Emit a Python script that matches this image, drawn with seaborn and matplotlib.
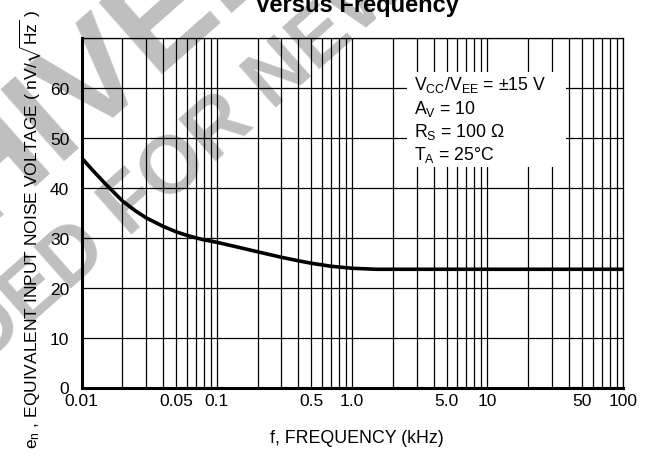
import matplotlib
matplotlib.use("Agg")
import matplotlib.pyplot as plt
from matplotlib import font_manager
from matplotlib.ticker import FixedLocator, FixedFormatter, LogLocator, NullFormatter
from matplotlib.patches import Rectangle
import seaborn as sns
import pandas as pd

# Equivalent input noise voltage vs frequency
freq_khz = [0.01, 0.012, 0.015, 0.02, 0.025, 0.03, 0.04, 0.05, 0.06, 0.07,
            0.08, 0.1, 0.15, 0.2, 0.3, 0.4, 0.5, 0.7, 1.0, 1.5, 2.0, 5.0,
            10, 20, 50, 100]
noise_nv = [46.0, 43.6, 40.8, 37.4, 35.4, 34.0, 32.3, 31.2, 30.5, 30.0,
            29.6, 29.1, 28.0, 27.2, 26.1, 25.4, 24.9, 24.3, 23.9, 23.7, 23.7, 23.7,
            23.7, 23.7, 23.7, 23.7]

x_ticks = [0.01, 0.05, 0.1, 0.5, 1.0, 5.0, 10, 50, 100]
x_tick_labels = ["0.01", "0.05", "0.1", "0.5", "1.0", "5.0", "10", "50", "100"]
y_ticks = [0, 10, 20, 30, 40, 50, 60]
y_tick_labels = ["0", "10", "20", "30", "40", "50", "60"]

conditions = [
    r"V$_\mathrm{CC}$/V$_\mathrm{EE}$ = $\pm$15 V",
    r"A$_\mathrm{V}$ = 10",
    r"R$_\mathrm{S}$ = 100 $\Omega$",
    r"T$_\mathrm{A}$ = 25$\degree$C",
]

sns.set_theme(style="white")

# prefer a narrow Helvetica-like face when one is available
installed = {f.name for f in font_manager.fontManager.ttflist}
if "Liberation Sans Narrow" in installed:
    body, k = "Liberation Sans Narrow", 1.0
else:
    body, k = "Liberation Sans", 0.86

plt.rcParams["font.family"] = [body, "DejaVu Sans"]
plt.rcParams["mathtext.fontset"] = "custom"
plt.rcParams["mathtext.rm"] = body
plt.rcParams["mathtext.it"] = body + ":italic"
plt.rcParams["mathtext.bf"] = body + ":bold"
plt.rcParams["mathtext.fallback"] = "stixsans"

fig = plt.figure(figsize=(6.52, 4.60), dpi=100)
fig.patch.set_facecolor("white")
ax = fig.add_axes([81.7 / 652, 1 - 388.5 / 460, 541 / 652, 349.2 / 460])
ax.patch.set_alpha(0)

# watermark behind the chart
wm = dict(color="#bfbfbf", fontweight="bold", family=["Liberation Sans", "DejaVu Sans"],
          rotation=41.5, rotation_mode="anchor", va="baseline", zorder=-5)
fig.text(128 / 652, 1 - 238 / 460, "FOR NEW DESIGN", fontsize=58, ha="left", **wm)
fig.text(111 / 652, 1 - 253 / 460, "NOT RECOMMENDED", fontsize=58, ha="right", **wm)
fig.text(28 / 652, 1 - 190 / 460, "ARCHIVED", fontsize=100, ha="center", **wm)

df = pd.DataFrame({"f": freq_khz, "en": noise_nv})
sns.lineplot(data=df, x="f", y="en", ax=ax, color="black", lw=2.6,
             solid_joinstyle="round", zorder=4)

ax.set_xscale("log")
ax.set_xlim(0.01, 100)
ax.set_ylim(0, 70)

ax.xaxis.set_major_locator(FixedLocator(x_ticks))
ax.xaxis.set_major_formatter(FixedFormatter(x_tick_labels))
ax.xaxis.set_minor_locator(LogLocator(base=10, subs=range(1, 10), numticks=50))
ax.xaxis.set_minor_formatter(NullFormatter())
ax.yaxis.set_major_locator(FixedLocator(y_ticks + [70]))
ax.yaxis.set_major_formatter(FixedFormatter(y_tick_labels + [""]))

ax.grid(True, which="both", axis="x", color="black", lw=0.9)
ax.grid(True, which="major", axis="y", color="black", lw=0.9)
ax.tick_params(axis="both", which="both", length=0, labelsize=14.5 * k, colors="black")
ax.tick_params(axis="x", pad=4)
ax.tick_params(axis="y", pad=9)

for side in ["top", "right"]:
    ax.spines[side].set_visible(True)
    ax.spines[side].set_color("black")
    ax.spines[side].set_linewidth(0.9)
for side in ["left", "bottom"]:
    ax.spines[side].set_color("black")
    ax.spines[side].set_linewidth(2.2)

ax.set_xlabel("")
ax.set_ylabel("")

# conditions box
ax.add_patch(Rectangle((0.601, 0.631), 0.294, 0.272, transform=ax.transAxes,
                       facecolor="white", edgecolor="none", zorder=3))
for ypos, line in zip([0.855, 0.787, 0.720, 0.653], conditions):
    ax.text(0.614, ypos, line, transform=ax.transAxes, fontsize=14.8 * k,
            ha="left", va="baseline", color="black", zorder=5)

fig.text(357 / 652, 1 - 439 / 460, "f, FREQUENCY (kHz)", fontsize=14.9 * k,
         ha="center", va="center", color="black")
fig.text(37 / 652, 1 - 229 / 460,
         r"e$_\mathrm{n}$ , EQUIVALENT INPUT NOISE VOLTAGE ( nV/$\sqrt{\mathrm{Hz}}$ )",
         fontsize=14.5 * k, rotation=90, rotation_mode="anchor",
         ha="center", va="baseline", color="black")
fig.text(357 / 652, 1 - 12 / 460, "Versus Frequency", fontsize=17, fontweight="bold",
         family=["Liberation Sans", "DejaVu Sans"], ha="center", va="baseline",
         color="black")

fig.savefig("out.png", dpi=100, facecolor="white")
